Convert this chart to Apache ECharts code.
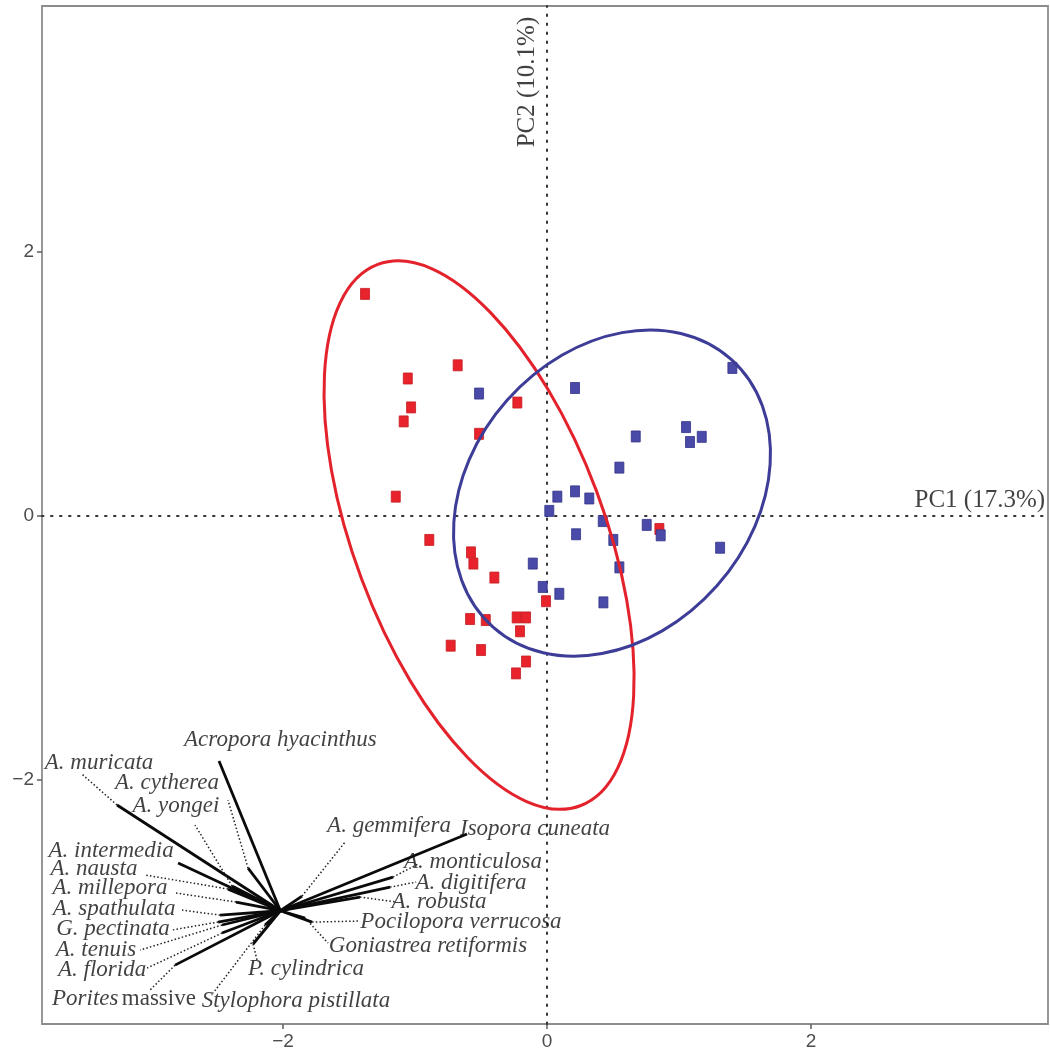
<!DOCTYPE html>
<html>
<head>
<meta charset="utf-8">
<title>PCA biplot of coral assemblages</title>
<script src="https://cdn.jsdelivr.net/npm/echarts@6/dist/echarts.min.js"></script>
<style>
  html, body { margin: 0; padding: 0; background: #ffffff; }
  #chart { width: 1050px; height: 1056px; }
</style>
</head>
<body>
<div id="chart"></div>
<script>
// Site scores on PC1 / PC2, group 1 (red)
const redX = [-1.379, -0.677, -1.055, -1.030, -1.086, -0.515, -0.225, -1.146, -0.892, -0.576, -0.558, -0.399,
              -0.008, -0.583, -0.464, -0.230, -0.159, -0.205, -0.730, -0.500, -0.159, -0.235, 0.851];
const redY = [1.683, 1.142, 1.042, 0.823, 0.717, 0.623, 0.860, 0.147, -0.181, -0.275, -0.360, -0.466,
              -0.645, -0.780, -0.788, -0.768, -0.768, -0.873, -0.982, -1.015, -1.102, -1.192, -0.098];

// Site scores on PC1 / PC2, group 2 (blue)
const blueX = [-0.515, 0.212, 1.404, 1.053, 1.083, 1.172, 0.672, 0.548, 0.078, 0.212, 0.320, 0.017,
               0.422, 0.220, 0.502, 0.755, 0.861, 1.311, 0.548, -0.108, -0.033, 0.093, 0.427];
const blueY = [0.928, 0.970, 1.122, 0.674, 0.561, 0.600, 0.603, 0.367, 0.147, 0.187, 0.133, 0.039,
               -0.038, -0.138, -0.181, -0.067, -0.146, -0.240, -0.389, -0.360, -0.537, -0.589, -0.654];

// Group ellipses: centre x, centre y, semi-major, semi-minor, angle of major axis (degrees)
const redEllipse = [-0.515, -0.144, 2.189, 0.950, 110.5];
const blueEllipse = [0.492, 0.174, 1.357, 1.061, 48.4];

// Species loading vectors, drawn from a common origin
const loadOrigin = [-2.02, -2.99];
const species = [
  'Acropora hyacinthus', 'A. muricata', 'A. cytherea', 'A. yongei', 'A. intermedia', 'A. nausta',
  'A. millepora', 'A. spathulata', 'G. pectinata', 'A. tenuis', 'A. florida', 'Porites massive',
  'Stylophora pistillata', 'P. cylindrica', 'Goniastrea retiformis', 'Pocilopora verrucosa',
  'A. robusta', 'A. digitifera', 'A. monticulosa', 'Isopora cuneata', 'A. gemmifera'
];
const loadX = [-2.485, -3.258, -2.265, -2.386, -2.795, -2.417, -2.356, -2.477, -2.492, -2.462, -2.462, -2.818,
               -2.136, -2.227, -1.833, -1.780, -1.417, -1.189, -1.167, -0.606, -1.856];
const loadY = [-1.856, -2.189, -2.667, -2.803, -2.629, -2.826, -2.924, -3.023, -3.076, -3.098, -3.159, -3.402,
               -3.098, -3.242, -3.045, -3.076, -2.886, -2.811, -2.735, -2.409, -2.879];

// Dotted leaders run from each vector tip to its label
const leaderX = [-2.485, -3.523, -2.417, -2.667, -2.795, -3.038, -2.811, -2.765, -2.841, -3.083, -3.030, -3.008,
                 -2.530, -2.197, -1.659, -1.417, -1.144, -0.992, -0.977, -0.606, -1.530];
const leaderY = [-1.856, -1.955, -2.152, -2.341, -2.629, -2.720, -2.856, -2.985, -3.136, -3.288, -3.424, -3.591,
                 -3.614, -3.364, -3.235, -3.068, -2.924, -2.773, -2.636, -2.409, -2.470];
const labelX = [-2.020, -3.394, -2.879, -2.811, -3.303, -3.432, -3.311, -3.280, -3.288, -3.417, -3.371, -3.205,
                -1.902, -1.826, -0.902, -0.652, -0.818, -0.576, -0.561, -0.091, -1.197];
const labelY = [-1.697, -1.871, -2.023, -2.197, -2.538, -2.674, -2.818, -2.977, -3.129, -3.288, -3.439, -3.659,
                -3.674, -3.432, -3.258, -3.076, -2.924, -2.780, -2.621, -2.371, -2.348];

// Axis ticks and titles
const xTicks = [-2, 0, 2];
const yTicks = [-2, 0, 2];
const axisTitles = ['PC1 (17.3%)', 'PC2 (10.1%)'];
const axisTitlePos = [[3.773, 0.121], [-0.152, 3.288]];

const RED = '#e3222b';
const BLUE = '#3d3d98';
const FRAME = '#8c8c8c';
const SERIF = '"Liberation Serif", "Times New Roman", serif';
const SANS = '"Liberation Sans", Arial, sans-serif';

const chart = echarts.init(document.getElementById('chart'), null, { renderer: 'canvas' });

function toPoints(xs, ys) { return xs.map((x, i) => [x, ys[i]]); }
function tickText(v) { return v < 0 ? '\u2212' + Math.abs(v) : String(v); }

function ellipseSeries(name, params, color) {
  return {
    name, type: 'custom', coordinateSystem: 'cartesian2d', z: 4, silent: true,
    data: [params], encode: { x: 0, y: 1 },
    renderItem(p, api) {
      const c = api.coord([api.value(0), api.value(1)]);
      const rx = api.size([api.value(2), 0])[0];
      const ry = api.size([0, api.value(3)])[1];
      return {
        type: 'ellipse', x: c[0], y: c[1],
        rotation: api.value(4) * Math.PI / 180,
        shape: { cx: 0, cy: 0, rx, ry },
        style: { fill: null, stroke: color, lineWidth: 3 }
      };
    }
  };
}

function speciesLabel(name) {
  if (name === 'Porites massive') return '{i|Porites} {n|massive}';
  return '{i|' + name + '}';
}

function valueAxis(min, max, ticks) {
  return {
    type: 'value', min, max,
    axisLine: { show: false, onZero: false }, splitLine: { show: false },
    axisTick: { show: true, customValues: ticks, length: 5, lineStyle: { color: '#666666', width: 1.6 } },
    axisLabel: { customValues: ticks, formatter: tickText, margin: 8, fontSize: 19, color: '#4d4d4d', fontFamily: SANS }
  };
}

const option = {
  animation: false,
  backgroundColor: '#ffffff',
  grid: { left: 42, top: 6, width: 1006, height: 1018, show: true, borderColor: FRAME, borderWidth: 1.8, backgroundColor: 'transparent' },
  xAxis: valueAxis(-3.826, 3.795, xTicks),
  yAxis: valueAxis(-3.848, 3.864, yTicks),
  series: [
    {
      name: 'group 1', type: 'scatter', z: 3, symbol: 'rect', symbolSize: [9, 11],
      data: toPoints(redX, redY),
      itemStyle: { color: '#e8232b', borderColor: '#c41d23', borderWidth: 0.8, opacity: 1 },
      markLine: {
        silent: true, symbol: 'none', z: 1, label: { show: false },
        lineStyle: { type: [1.5, 7.5], color: '#333333', width: 2, cap: 'round' },
        data: [{ xAxis: 0 }, { yAxis: 0 }]
      }
    },
    {
      name: 'group 2', type: 'scatter', z: 3, symbol: 'rect', symbolSize: [9, 11],
      data: toPoints(blueX, blueY),
      itemStyle: { color: '#4a4aa8', borderColor: '#33338a', borderWidth: 0.8, opacity: 1 }
    },
    ellipseSeries('group 1 ellipse', redEllipse, RED),
    ellipseSeries('group 2 ellipse', blueEllipse, BLUE),
    {
      name: 'loadings', type: 'custom', coordinateSystem: 'cartesian2d', z: 5, silent: true,
      data: species.map((s, i) => [loadX[i], loadY[i], leaderX[i], leaderY[i]]),
      encode: { x: [0, 2], y: [1, 3] },
      renderItem(p, api) {
        const o = api.coord(loadOrigin);
        const e = api.coord([api.value(0), api.value(1)]);
        const l = api.coord([api.value(2), api.value(3)]);
        return {
          type: 'group',
          children: [
            { type: 'line', shape: { x1: o[0], y1: o[1], x2: e[0], y2: e[1] },
              style: { stroke: '#0a0a0a', lineWidth: 2.8 } },
            { type: 'line', shape: { x1: e[0], y1: e[1], x2: l[0], y2: l[1] },
              style: { stroke: '#222222', lineWidth: 1.5, lineDash: [1.5, 2.2] } }
          ]
        };
      }
    },
    {
      name: 'species labels', type: 'scatter', z: 6, silent: true, symbolSize: 0,
      data: species.map((s, i) => ({ name: s, value: [labelX[i], labelY[i]] })),
      label: {
        show: true, position: 'inside',
        formatter: (d) => speciesLabel(d.name),
        rich: {
          i: { fontFamily: SERIF, fontStyle: 'italic', fontSize: 23, color: '#111111' },
          n: { fontFamily: SERIF, fontStyle: 'normal', fontSize: 23, color: '#111111' }
        }
      }
    },
    {
      name: 'axis titles', type: 'scatter', z: 6, silent: true, symbolSize: 0,
      data: [
        { name: axisTitles[0], value: axisTitlePos[0],
          label: { align: 'right', verticalAlign: 'middle', position: [0, 0] } },
        { name: axisTitles[1], value: axisTitlePos[1],
          label: { rotate: 90, position: 'inside' } }
      ],
      label: {
        show: true, formatter: (d) => d.name,
        fontFamily: SERIF, fontSize: 25, color: '#111111'
      }
    }
  ]
};

chart.setOption(option);
</script>
</body>
</html>
